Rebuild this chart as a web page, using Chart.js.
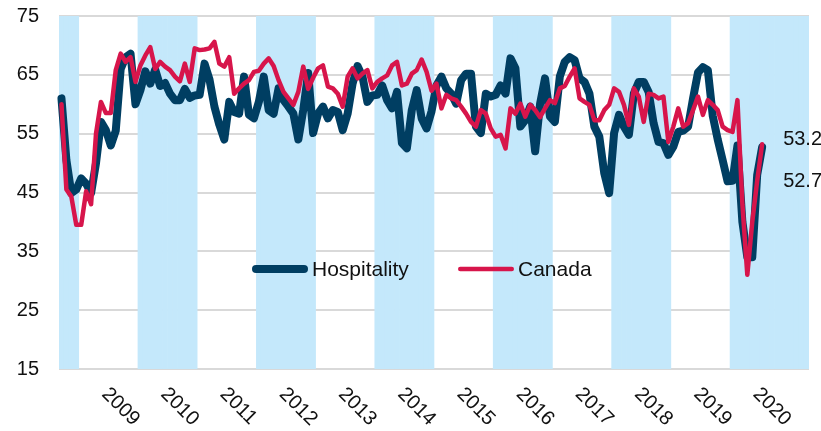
<!DOCTYPE html>
<html>
<head>
<meta charset="utf-8">
<title>Business Barometer: Hospitality vs Canada</title>
<script src="https://cdn.jsdelivr.net/npm/chart.js@4/dist/chart.umd.min.js"></script>
<style>
  html, body { margin: 0; padding: 0; background: #ffffff; }
  #wrap { width: 821px; height: 431px; position: relative; }
</style>
</head>
<body>
<div id="wrap"><canvas id="chart" width="821" height="431"></canvas></div>
<script>
// Monthly categories, Sep 2008 through Apr 2021 (the axis runs a little past the data)
const startYear = 2008;
const startMonth = 9;
const monthCount = 152;
const months = [];
for (let k = 0; k < monthCount; k++) {
  const m = startMonth - 1 + k;
  months.push(`${startYear + Math.floor(m / 12)}-${String((m % 12) + 1).padStart(2, '0')}`);
}

// Year captions shown under the axis
const yearTicks = ['2009', '2010', '2011', '2012', '2013', '2014', '2015', '2016', '2017', '2018', '2019', '2020'];

// Years drawn with a blue background band
const shadedYears = [2008, 2010, 2012, 2014, 2016, 2018, 2020, 2021];

// Value axis ticks
const yTicks = [15, 25, 35, 45, 55, 65, 75];

// Hospitality index, Sep 2008 - Jul 2020
const hospitality = [
  61.0, 50.5, 44.9, 45.5, 47.4, 46.5, 44.9, 50.0, 57.0, 55.6, 53.0, 55.5,
  66.0, 68.0, 68.6, 60.0, 62.4, 65.6, 63.5, 65.9, 63.1, 63.6, 61.8, 60.7,
  60.7, 62.6, 61.1, 61.5, 61.6, 66.9, 64.2, 59.6, 56.5, 54.0, 60.4, 58.7,
  58.4, 64.7, 58.2, 57.6, 60.4, 64.7, 59.0, 58.4, 62.7, 60.7, 59.6, 58.4,
  54.0, 59.0, 65.3, 55.1, 58.4, 59.6, 57.6, 59.0, 58.7, 55.6, 58.4, 63.5,
  66.5, 64.7, 60.4, 61.5, 61.6, 63.2, 60.7, 59.3, 62.1, 53.4, 52.5, 59.0,
  62.4, 57.6, 55.9, 58.8, 63.2, 64.7, 62.7, 61.8, 60.1, 64.1, 65.2, 65.2,
  56.2, 55.1, 61.8, 61.3, 61.6, 63.2, 61.8, 67.8, 66.1, 56.2, 57.3, 59.6,
  52.0, 60.1, 64.4, 57.9, 57.0, 64.7, 67.2, 68.0, 67.5, 64.4, 63.8, 61.8,
  56.2, 54.5, 48.3, 44.9, 55.1, 58.2, 56.2, 54.8, 61.8, 63.8, 63.8, 62.1,
  56.8, 53.6, 53.4, 51.4, 52.8, 55.3, 55.5, 56.2, 61.0, 65.4, 66.3, 65.8,
  58.0, 54.0, 50.5, 46.9, 47.0, 53.0, 40.0, 34.0, 34.0, 48.0, 52.7
];

// Canada (all sectors) index, Sep 2008 - Jul 2020
const canada = [
  60.0, 45.5, 44.3, 39.5, 39.5, 45.2, 43.0, 55.0, 60.4, 58.5, 58.5, 65.8,
  68.6, 67.2, 68.0, 63.8, 66.6, 68.3, 69.7, 66.0, 67.2, 66.4, 65.8, 64.7,
  63.9, 66.9, 63.8, 69.5, 69.2, 69.3, 69.5, 70.6, 66.9, 66.4, 68.0, 61.8,
  62.7, 63.5, 64.1, 65.5, 65.7, 66.9, 67.8, 66.5, 64.1, 62.1, 61.0, 59.9,
  62.1, 66.4, 62.6, 64.5, 66.1, 66.6, 63.0, 62.7, 61.8, 59.6, 64.7, 66.1,
  64.4, 65.2, 65.8, 62.7, 63.8, 64.4, 64.9, 66.6, 67.2, 63.2, 63.5, 65.2,
  65.8, 67.6, 65.5, 62.3, 63.5, 59.3, 61.6, 61.0, 60.7, 59.6, 58.4, 57.0,
  56.2, 59.0, 58.4, 55.9, 54.5, 54.8, 52.5, 59.3, 58.4, 60.1, 57.9, 59.9,
  59.0, 57.8, 59.3, 60.7, 60.2, 62.7, 63.1, 64.7, 66.1, 61.0, 60.4, 59.9,
  57.3, 57.3, 59.0, 59.9, 62.7, 62.1, 59.9, 56.5, 62.7, 61.3, 57.0, 61.8,
  61.6, 61.0, 61.3, 53.6, 56.2, 59.3, 56.2, 56.8, 59.0, 61.3, 58.2, 60.7,
  59.9, 59.0, 56.2, 55.6, 55.3, 60.7, 43.0, 31.0, 40.0, 47.0, 53.2
];

const NAVY = '#003e62';
const RED = '#d7154b';
const BAND = '#c4e8fb';
const TEXT = '#111111';
const FONT = "'Liberation Sans', Arial, Helvetica, sans-serif";

const bandValues = months.map(m => shadedYears.includes(Number(m.slice(0, 4))) ? 1 : null);

// Rotated year captions, placed through the category scale
const yearLabelPlugin = {
  id: 'yearLabels',
  afterDraw(chart) {
    const xs = chart.scales.x;
    const ctx = chart.ctx;
    ctx.save();
    ctx.font = `20px ${FONT}`;
    ctx.fillStyle = TEXT;
    ctx.textAlign = 'left';
    ctx.textBaseline = 'top';
    yearTicks.forEach(year => {
      const idx = months.indexOf(`${year}-06`);
      const px = xs.getPixelForValue(idx) + 6;
      ctx.save();
      ctx.translate(px, chart.chartArea.bottom + 15);
      ctx.rotate(Math.PI / 4);
      ctx.fillText(year, 0, 0);
      ctx.restore();
    });
    ctx.restore();
  }
};

// Legend drawn inside the plot area
const inlineLegendPlugin = {
  id: 'inlineLegend',
  afterDatasetsDraw(chart) {
    const ctx = chart.ctx;
    const area = chart.chartArea;
    const entries = [
      { label: 'Hospitality', x: area.left + 193 },
      { label: 'Canada', x: area.left + 399 }
    ];
    const y = area.top + 253;
    ctx.save();
    ctx.font = `21px ${FONT}`;
    ctx.textBaseline = 'middle';
    ctx.textAlign = 'left';
    entries.forEach(e => {
      const ds = chart.data.datasets.find(d => d.label === e.label);
      const w = ds.borderWidth;
      ctx.strokeStyle = ds.borderColor;
      ctx.lineWidth = w;
      ctx.lineCap = 'round';
      ctx.beginPath();
      ctx.moveTo(e.x + w / 2, y);
      ctx.lineTo(e.x + 56 - w / 2, y);
      ctx.stroke();
      ctx.fillStyle = TEXT;
      ctx.fillText(e.label, e.x + 60, y + 1);
    });
    ctx.restore();
  }
};

// Latest value printed to the right of each line
const endLabelPlugin = {
  id: 'endLabels',
  afterDatasetsDraw(chart) {
    const ctx = chart.ctx;
    const offsets = { Canada: -5, Hospitality: 34 };
    ctx.save();
    ctx.font = `20px ${FONT}`;
    ctx.fillStyle = TEXT;
    ctx.textAlign = 'left';
    ctx.textBaseline = 'middle';
    chart.data.datasets.forEach((ds, i) => {
      if (!(ds.label in offsets)) return;
      const meta = chart.getDatasetMeta(i);
      const last = ds.data.length - 1;
      const pt = meta.data[last];
      ctx.fillText(ds.data[last].toFixed(1), pt.x + 21, pt.y + offsets[ds.label]);
    });
    ctx.restore();
  }
};

new Chart(document.getElementById('chart'), {
  data: {
    labels: months,
    datasets: [
      {
        type: 'line', label: 'Canada', data: canada,
        borderColor: RED, backgroundColor: RED, borderWidth: 4.5,
        pointRadius: 0, tension: 0, borderJoinStyle: 'round', borderCapStyle: 'round',
        yAxisID: 'y', order: 1
      },
      {
        type: 'line', label: 'Hospitality', data: hospitality,
        borderColor: NAVY, backgroundColor: NAVY, borderWidth: 8,
        pointRadius: 0, tension: 0, borderJoinStyle: 'round', borderCapStyle: 'round',
        yAxisID: 'y', order: 2
      },
      {
        type: 'bar', label: 'band', data: bandValues,
        backgroundColor: BAND, borderWidth: 0,
        barPercentage: 1, categoryPercentage: 1,
        yAxisID: 'yBand', order: 10
      }
    ]
  },
  options: {
    responsive: false,
    animation: false,
    layout: { padding: { left: 17, right: 12, top: 16, bottom: 62 } },
    plugins: { legend: { display: false }, tooltip: { enabled: false } },
    scales: {
      x: { type: 'category', offset: true, display: false },
      y: {
        min: yTicks[0], max: yTicks[yTicks.length - 1],
        afterBuildTicks(scale) { scale.ticks = yTicks.map(v => ({ value: v })); },
        afterFit(scale) {
          scale.width = 42;
          scale.paddingTop = 0;
          scale.paddingBottom = 0;
        },
        ticks: { color: TEXT, padding: 20, font: { family: FONT, size: 20 } },
        grid: { color: '#d9d9d9', lineWidth: 2, drawTicks: false },
        border: { display: false }
      },
      yBand: { min: 0, max: 1, display: false }
    }
  },
  plugins: [yearLabelPlugin, inlineLegendPlugin, endLabelPlugin]
});
</script>
</body>
</html>
